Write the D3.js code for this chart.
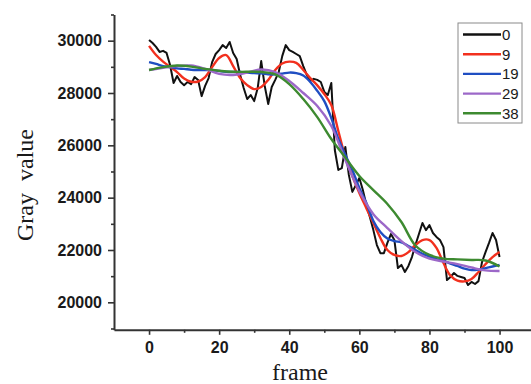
<!DOCTYPE html>
<html>
<head>
<meta charset="utf-8">
<script src="https://cdn.jsdelivr.net/npm/d3@7/dist/d3.min.js"></script>
<style>
  body { margin: 0; background: #fff; }
  svg { display: block; }
</style>
</head>
<body>
<svg></svg>
<script>
// frame indices
const rawFrames = d3.range(0, 101);
const halfFrames = d3.range(0, 101, 2);
const coarseFrames = d3.range(0, 101, 4);

// gray values
const gray0 = [30030, 29910, 29760, 29570, 29610, 29530, 29070, 28380, 28650, 28420,
  28300, 28420, 28340, 28610, 28500, 27880, 28270, 28570, 29180, 29490,
  29640, 29830, 29720, 29950, 29530, 29300, 28690, 28190, 27770, 27920,
  27690, 28190, 29220, 28270, 27580, 28230, 28500, 28800, 29410, 29830,
  29640, 29570, 29490, 29410, 29030, 28690, 28460, 28540, 28500, 28420,
  28040, 27920, 28380, 25820, 25060, 25130, 25940, 24870, 24220, 24480,
  24750, 24290, 23720, 23260, 22760, 22190, 21880, 21880, 22270, 22610,
  22380, 21310, 21430, 21160, 21390, 21730, 22190, 22610, 23030, 22760,
  22950, 22650, 22500, 22380, 22110, 20850, 20970, 21120, 21010, 20970,
  20930, 20660, 20780, 20700, 20810, 21540, 21920, 22270, 22650, 22380, 21730];

const gray9 = [29800, 29450, 29200, 29000, 28800, 28550, 28430, 28440, 28610, 28990,
  29340, 29450, 29030, 28570, 28300, 28150, 28230, 28500, 28880, 29130,
  29200, 29150, 28880, 28570, 28290, 27960, 27540, 26550, 25550, 24830,
  24180, 23600, 23030, 22460, 22000, 21810, 21770, 21920, 22190, 22380,
  22380, 22080, 21500, 21020, 20830, 20800, 20890, 21160, 21460, 21730, 21920];

const gray19 = [29180, 29110, 29030, 28990, 28940, 28920, 28890, 28880, 28880, 28880,
  28840, 28810, 28800, 28800, 28780, 28760, 28750, 28710, 28710, 28740,
  28780, 28760, 28670, 28420, 28080, 27690, 27040, 26240, 25630, 25060,
  24370, 23800, 23110, 22690, 22440, 22340, 22290, 22150, 22000, 21850,
  21750, 21650, 21580, 21480, 21390, 21290, 21230, 21250, 21310, 21370, 21430];

const gray29 = [28880, 28960, 29030, 29050, 28920, 28730, 28690, 28780, 28900, 28800,
  28460, 28000, 27500, 26740, 25440, 24250, 23370, 22840, 22340, 21920,
  21670, 21560, 21460, 21330, 21220, 21200];

const gray38 = [28880, 28990, 29050, 29010, 28920, 28850, 28810, 28810, 28800, 28710,
  28340, 27770, 27080, 26240, 25530, 24830, 24290, 23760, 23070, 22170,
  21810, 21670, 21640, 21620, 21600, 21370];

const seriesNames = ['0', '9', '19', '29', '38'];
const seriesColors = ['#111111', '#f2301e', '#1f4ec2', '#9c68c8', '#3d8a30'];

const xTicks = [0, 20, 40, 60, 80, 100];
const xMinorTicks = [10, 30, 50, 70, 90];
const yTicks = [20000, 22000, 24000, 26000, 28000, 30000];
const yMinorTicks = [19000, 21000, 23000, 25000, 27000, 29000, 31000];

const W = 531, H = 384;
const svg = d3.select('svg').attr('width', W).attr('height', H);

const x = d3.scaleLinear().domain([-10, 110]).range([114, 534.6]);
const y = d3.scaleLinear().domain([18950, 31000]).range([329.8, 14.5]);

// lines
const series = [
  { frames: rawFrames, values: gray0, width: 2, curve: d3.curveLinear },
  { frames: halfFrames, values: gray9, width: 2.4, curve: d3.curveCatmullRom },
  { frames: halfFrames, values: gray19, width: 2.4, curve: d3.curveCatmullRom },
  { frames: coarseFrames, values: gray29, width: 2.4, curve: d3.curveCatmullRom },
  { frames: coarseFrames, values: gray38, width: 2.4, curve: d3.curveCatmullRom }
];

series.forEach((s, i) => {
  const line = d3.line()
    .x((d, j) => x(s.frames[j]))
    .y(d => y(d))
    .curve(s.curve);
  svg.append('path')
    .datum(s.values)
    .attr('fill', 'none')
    .attr('stroke', seriesColors[i])
    .attr('stroke-width', s.width)
    .attr('stroke-linejoin', 'round')
    .attr('d', line);
});

// axes
const axisColor = '#333';

const yAxis = d3.axisLeft(y).tickValues(yTicks).tickFormat(d3.format('d'))
  .tickSize(6).tickSizeOuter(0).tickPadding(6);
const yAxisG = svg.append('g').attr('transform', `translate(${x(-10)},0)`).call(yAxis);

const yMinor = d3.axisLeft(y).tickValues(yMinorTicks).tickSize(3).tickSizeOuter(0).tickFormat('');
const yMinorG = svg.append('g').attr('transform', `translate(${x(-10)},0)`).call(yMinor);
yMinorG.select('.domain').remove();

const xAxis = d3.axisBottom(x).tickValues(xTicks).tickFormat(d3.format('d'))
  .tickSize(5).tickSizeOuter(0).tickPadding(7);
const xAxisG = svg.append('g').attr('transform', `translate(0,${y(18950)})`).call(xAxis);

const xMinor = d3.axisBottom(x).tickValues(xMinorTicks).tickSize(3).tickSizeOuter(0).tickFormat('');
const xMinorG = svg.append('g').attr('transform', `translate(0,${y(18950)})`).call(xMinor);
xMinorG.select('.domain').remove();

[yAxisG, xAxisG, yMinorG, xMinorG].forEach(g => {
  g.select('.domain').attr('stroke', axisColor).attr('stroke-width', 2);
  g.selectAll('.tick line').attr('stroke', axisColor).attr('stroke-width', 1.6);
  g.selectAll('.tick text')
    .attr('fill', '#1a1a1a')
    .style('font-family', '"Liberation Sans", Arial, sans-serif')
    .style('font-weight', 'bold')
    .style('font-size', '16px');
});

// axis titles
svg.append('text')
  .attr('x', 300).attr('y', 380)
  .attr('text-anchor', 'middle')
  .style('font-family', '"Liberation Serif", "Times New Roman", serif')
  .style('font-size', '24px')
  .attr('fill', '#1a1a1a')
  .text('frame');

svg.append('text')
  .attr('transform', 'translate(33,185) rotate(-90)')
  .attr('text-anchor', 'middle')
  .style('font-family', '"Liberation Serif", "Times New Roman", serif')
  .style('font-size', '24px')
  .style('white-space', 'pre')
  .attr('fill', '#1a1a1a')
  .text('Gray  value');

// legend
const legend = svg.append('g');
legend.append('rect')
  .attr('x', 458).attr('y', 23).attr('width', 64).attr('height', 100)
  .attr('fill', '#fff').attr('stroke', '#8a8a8a').attr('stroke-width', 1);

seriesNames.forEach((name, i) => {
  const ly = 34.5 + i * 19.7;
  legend.append('line')
    .attr('x1', 463).attr('x2', 501).attr('y1', ly).attr('y2', ly)
    .attr('stroke', seriesColors[i]).attr('stroke-width', 2.4);
  legend.append('text')
    .attr('x', 502).attr('y', ly + 5.5)
    .style('font-family', '"Liberation Sans", Arial, sans-serif')
    .style('font-size', '15px')
    .attr('fill', '#1a1a1a')
    .text(name);
});
</script>
</body>
</html>
